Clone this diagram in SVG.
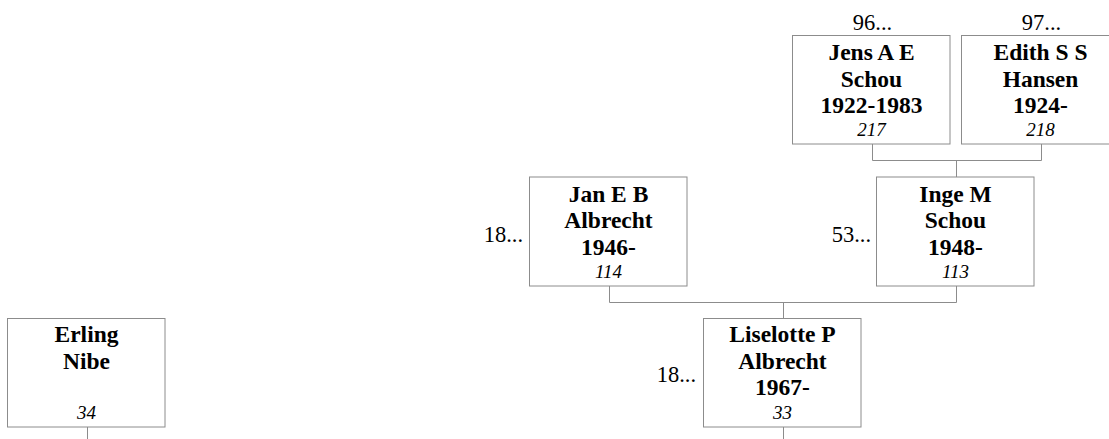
<svg xmlns="http://www.w3.org/2000/svg" width="1109" height="439" viewBox="0 0 1109 439">
<style>
rect.box{fill:#fff;stroke:#8c8c8c;stroke-width:1}
.conn path{fill:none;stroke:#8c8c8c;stroke-width:1}
text{font-family:"Liberation Serif","Times New Roman",serif;fill:#000}
.nm{font-weight:bold;font-size:23.5px;text-anchor:middle}
.no{font-style:italic;font-size:19px;text-anchor:middle}
.lb{font-size:22.5px}
.lr{text-anchor:end}
.lc{text-anchor:middle}
</style>
<rect width="1109" height="439" fill="#fff"/>
<g class="conn">
<path d="M872.5 144V160.5H1041.5V144M956.5 160.5V177"/>
<path d="M609.5 286V302.5H956.5V286M783.5 302.5V318"/>
<path d="M783.5 427V439"/>
<path d="M87.5 427V439"/>
</g>
<g id="jens">
<rect class="box" x="792.5" y="35.5" width="157.5" height="108.5"/>
<text class="lb lc" x="872.5" y="30">96...</text>
<text class="nm" x="871.5" y="60">Jens A E</text>
<text class="nm" x="871.5" y="86.5">Schou</text>
<text class="nm" x="871.5" y="113">1922-1983</text>
<text class="no" x="871.5" y="136">217</text>
</g>
<g id="edith">
<rect class="box" x="961.5" y="35.5" width="157.5" height="108.5"/>
<text class="lb lc" x="1041.5" y="30">97...</text>
<text class="nm" x="1040.5" y="60">Edith S S</text>
<text class="nm" x="1040.5" y="86.5">Hansen</text>
<text class="nm" x="1040.5" y="113">1924-</text>
<text class="no" x="1040.5" y="136">218</text>
</g>
<g id="jan">
<rect class="box" x="529.5" y="177" width="157.5" height="109"/>
<text class="lb lr" x="523" y="242">18...</text>
<text class="nm" x="608.5" y="201.5">Jan E B</text>
<text class="nm" x="608.5" y="228">Albrecht</text>
<text class="nm" x="608.5" y="254.5">1946-</text>
<text class="no" x="608.5" y="278">114</text>
</g>
<g id="inge">
<rect class="box" x="876.5" y="177" width="157.5" height="109"/>
<text class="lb lr" x="871" y="242">53...</text>
<text class="nm" x="955.5" y="201.5">Inge M</text>
<text class="nm" x="955.5" y="228">Schou</text>
<text class="nm" x="955.5" y="254.5">1948-</text>
<text class="no" x="955.5" y="278">113</text>
</g>
<g id="liselotte">
<rect class="box" x="703.5" y="318.5" width="157.5" height="108.5"/>
<text class="lb lr" x="696" y="382">18...</text>
<text class="nm" x="782.5" y="342">Liselotte P</text>
<text class="nm" x="782.5" y="368.5">Albrecht</text>
<text class="nm" x="782.5" y="395">1967-</text>
<text class="no" x="782.5" y="418.5">33</text>
</g>
<g id="erling">
<rect class="box" x="7.5" y="318.5" width="157.5" height="108.5"/>
<text class="nm" x="86.5" y="342">Erling</text>
<text class="nm" x="86.5" y="368.5">Nibe</text>
<text class="no" x="86.5" y="418.5">34</text>
</g>
</svg>
